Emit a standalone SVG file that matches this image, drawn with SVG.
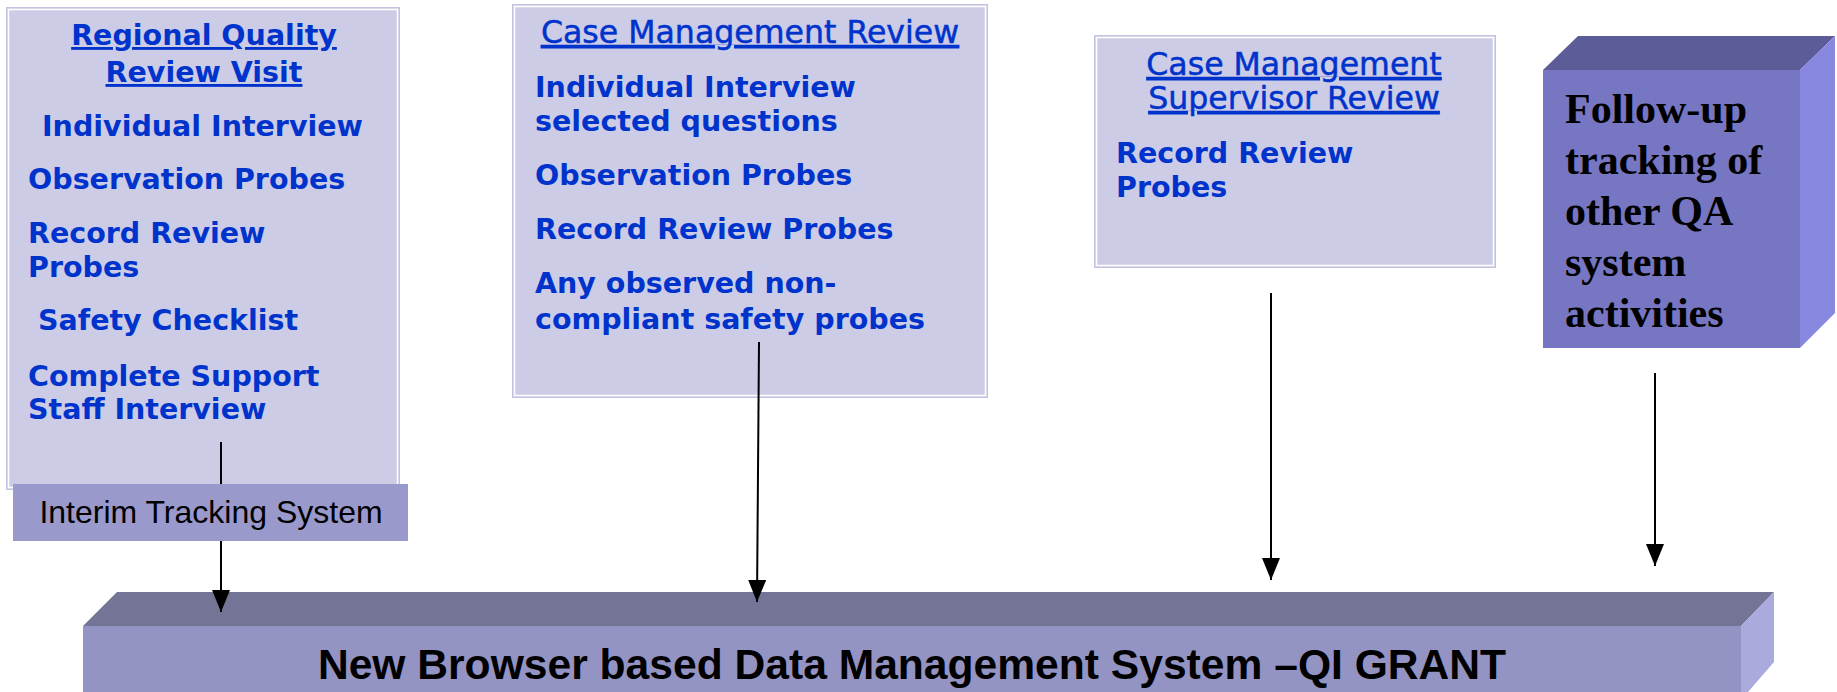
<svg xmlns="http://www.w3.org/2000/svg" width="1837" height="692" viewBox="0 0 1837 692">
<style>
.panel{fill:#CCCCE6;stroke:#C2C2E2;stroke-width:1}
.inner{fill:none;stroke:#FFFFFF;stroke-width:1.5}
.b{font-family:"DejaVu Sans",Verdana,sans-serif;font-weight:bold;font-size:28.5px;fill:#0033CC}
.t{font-family:"DejaVu Sans",Verdana,sans-serif;font-size:31.6px;fill:#0033CC;text-decoration:underline;stroke:#0033CC;stroke-width:0.5}
.tb{font-family:"DejaVu Sans",Verdana,sans-serif;font-weight:bold;font-size:28.5px;fill:#0033CC;text-decoration:underline}
.conn{stroke:#000;stroke-width:2;fill:none}
.serif{font-family:"Liberation Serif","Times New Roman",serif;font-weight:bold;font-size:42px;fill:#000}
</style>
<defs>
<marker id="arr" viewBox="0 0 22 18" refX="22" refY="9" markerWidth="22" markerHeight="18" markerUnits="userSpaceOnUse" orient="auto">
<path d="M0,0 L22,9 L0,18 z" fill="#000"/>
</marker>
</defs>

<g id="regional-visit">
<rect class="panel" x="6.5" y="7.5" width="393" height="482"/>
<rect class="inner" x="8.5" y="9.5" width="389" height="478"/>
<text class="tb" x="204" y="45" text-anchor="middle">Regional Quality</text>
<text class="tb" x="204" y="82" text-anchor="middle">Review Visit</text>
<text class="b" x="42" y="136">Individual Interview</text>
<text class="b" x="28" y="189">Observation Probes</text>
<text class="b" x="28" y="243">Record Review</text>
<text class="b" x="28" y="277">Probes</text>
<text class="b" x="38" y="330">Safety Checklist</text>
<text class="b" x="28" y="386">Complete Support</text>
<text class="b" x="28" y="419">Staff Interview</text>
</g>

<g id="case-management-review">
<rect class="panel" x="512.5" y="4.5" width="475" height="393"/>
<rect class="inner" x="514.5" y="6.5" width="471" height="389"/>
<text class="t" x="750" y="43" text-anchor="middle">Case Management Review</text>
<text class="b" x="535" y="97">Individual Interview</text>
<text class="b" x="535" y="131">selected questions</text>
<text class="b" x="535" y="185">Observation Probes</text>
<text class="b" x="535" y="239">Record Review Probes</text>
<text class="b" x="535" y="293">Any observed non-</text>
<text class="b" x="535" y="329">compliant safety probes</text>
</g>

<g id="supervisor-review">
<rect class="panel" x="1094.5" y="35.5" width="401" height="232"/>
<rect class="inner" x="1096.5" y="37.5" width="397" height="228"/>
<text class="t" x="1294" y="75" text-anchor="middle">Case Management</text>
<text class="t" x="1294" y="109" text-anchor="middle">Supervisor Review</text>
<text class="b" x="1116" y="163">Record Review</text>
<text class="b" x="1116" y="197">Probes</text>
</g>

<g id="follow-up">
<polygon points="1543,70 1578,36 1835,36 1800,70" fill="#5C5C98"/>
<polygon points="1800,70 1835,36 1835,313 1800,348" fill="#8888E0"/>
<rect x="1543" y="70" width="257" height="278" fill="#7676C2"/>
<text class="serif" x="1565" y="123">Follow-up</text>
<text class="serif" x="1565" y="174">tracking of</text>
<text class="serif" x="1565" y="225">other QA</text>
<text class="serif" x="1565" y="276">system</text>
<text class="serif" x="1565" y="327">activities</text>
</g>

<g id="data-management-system">
<polygon points="83,626 117,592 1774,592 1741,626" fill="#747497"/>
<polygon points="1741,626 1774,592 1774,662 1741,700" fill="#AAAADD"/>
<rect x="83" y="626" width="1658" height="74" fill="#9494C4"/>
<text x="912" y="679" text-anchor="middle" font-family="'Liberation Sans',Arial,sans-serif" font-weight="bold" font-size="42.6" fill="#000">New Browser based Data Management System –QI GRANT</text>
</g>

<g id="connectors">
<line class="conn" x1="221" y1="442" x2="221" y2="612" marker-end="url(#arr)"/>
<line class="conn" x1="759" y1="342" x2="757" y2="602" marker-end="url(#arr)"/>
<line class="conn" x1="1271" y1="293" x2="1271" y2="580" marker-end="url(#arr)"/>
<line class="conn" x1="1655" y1="373" x2="1655" y2="566" marker-end="url(#arr)"/>
</g>

<g id="interim-tracking">
<rect x="13" y="484" width="395" height="57" fill="#9999CC"/>
<text x="211" y="523" text-anchor="middle" font-family="'Liberation Sans',Arial,sans-serif" font-size="32" fill="#000">Interim Tracking System</text>
</g>
</svg>
